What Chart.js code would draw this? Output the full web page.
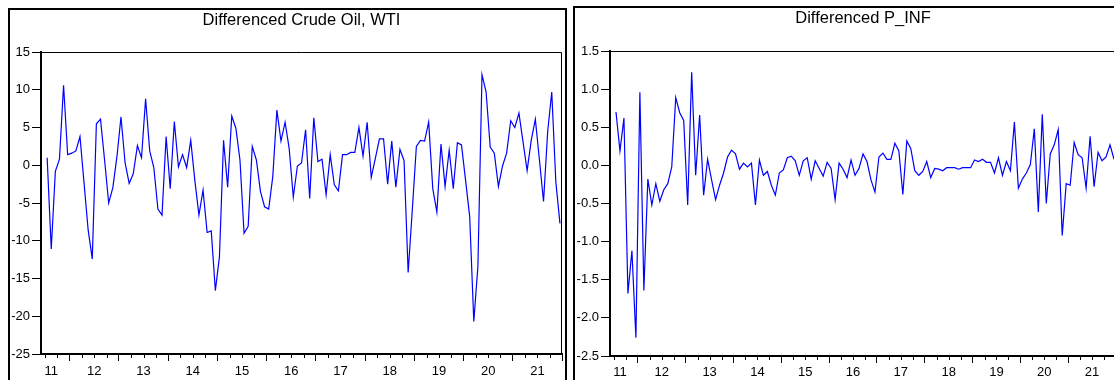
<!DOCTYPE html>
<html lang="en">
<head>
<meta charset="UTF-8" />
<title>Differenced Crude Oil, WTI / Differenced P_INF</title>
<script src="https://cdn.jsdelivr.net/npm/chart.js"></script>
<style>
  html, body {
    margin: 0;
    padding: 0;
    width: 1114px;
    height: 380px;
    overflow: hidden;
    background: #fff;
  }
  .frame {
    position: absolute;
    border: 2px solid #000;
    box-sizing: border-box;
  }
  .panel {
    position: absolute;
    top: 0;
    height: 380px;
  }
</style>
</head>
<body>

<div class="frame" style="left:8px; top:8px; width:559px; height:420px;"></div>
<div class="frame" style="left:573px; top:6px; width:600px; height:420px;"></div>

<div class="panel" style="left:0px; width:570px;"><canvas id="oilChart" width="570" height="380"></canvas></div>
<div class="panel" style="left:576px; width:546px;"><canvas id="infChart" width="546" height="380"></canvas></div>

<script>
  // monthly series, 2011M07 .. 2021M12
  const startYear = 2011;
  const startMonth = 7;
  const yearLabels = ['11', '12', '13', '14', '15', '16', '17', '18', '19', '20', '21'];

  const oilValues = [
    1.0, -11.1, -0.8, 0.8, 10.6, 1.4, 1.6, 1.9, 3.8, -2.4, -8.6, -12.4,
    5.5, 6.1, 0.7, -5.0, -3.0, 1.1, 6.4, 0.3, -2.4, -1.1, 2.6, 1.0,
    8.8, 1.9, -0.3, -5.8, -6.6, 3.8, -3.1, 5.8, -0.2, 1.4, -0.3, 3.3,
    -2.0, -6.6, -3.3, -8.9, -8.7, -16.6, -12.1, 3.3, -2.9, 6.5, 4.9, 0.7,
    -9.0, -8.1, 2.5, 0.7, -3.5, -5.5, -5.8, -1.5, 7.3, 3.2, 5.7, 2.2,
    -4.2, -0.1, 0.3, 4.7, -4.4, 6.3, 0.5, 0.8, -3.9, 1.4, -2.6, -3.4,
    1.4, 1.4, 1.7, 1.7, 5.0, 1.2, 5.7, -1.6, 0.9, 3.5, 3.5, -2.5,
    3.2, -2.9, 2.1, 0.6, -14.2, -6.0, 2.5, 3.3, 3.2, 5.7, -3.1, -6.2,
    2.8, -2.8, 2.0, -3.1, 3.0, 2.7, -2.0, -6.8, -20.7, -13.4, 12.0, 9.7,
    2.4, 1.6, -2.8, -0.1, 1.6, 5.9, 5.0, 6.9, 3.1, -0.7, 3.3, 6.1,
    0.7, -4.8, 4.4, 9.7, -2.2, -7.7
  ];

  const infValues = [
    0.70, 0.19, 0.62, -1.68, -1.12, -2.26, 0.96, -1.64, -0.18, -0.52, -0.24, -0.47,
    -0.32, -0.24, -0.02, 0.89, 0.69, 0.59, -0.52, 1.22, -0.13, 0.66, -0.39, 0.08,
    -0.19, -0.45, -0.26, -0.10, 0.11, 0.20, 0.15, -0.05, 0.03, -0.02, 0.03, -0.52,
    0.07, -0.13, -0.08, -0.26, -0.39, -0.10, -0.06, 0.10, 0.12, 0.06, -0.13, 0.06,
    0.10, -0.18, 0.06, -0.04, -0.14, 0.04, -0.04, -0.45, 0.03, -0.05, -0.16, 0.07,
    -0.13, -0.04, 0.15, 0.05, -0.19, -0.35, 0.11, 0.16, 0.08, 0.08, 0.29, 0.19,
    -0.38, 0.32, 0.22, -0.07, -0.13, -0.08, 0.05, -0.16, -0.04, -0.05, -0.07, -0.03,
    -0.03, -0.03, -0.05, -0.03, -0.03, -0.03, 0.07, 0.05, 0.08, 0.04, 0.04, -0.10,
    0.10, -0.13, 0.05, -0.07, 0.57, -0.30, -0.18, -0.10, 0.01, 0.48, -0.61, 0.67,
    -0.50, 0.15, 0.27, 0.47, -0.92, -0.24, -0.26, 0.30, 0.14, 0.10, -0.30, 0.38,
    -0.28, 0.17, 0.06, 0.11, 0.27, 0.08
  ];

  Chart.defaults.font.family = '"Liberation Sans", Arial, sans-serif';
  Chart.defaults.color = '#000';

  // months counted from Jan 2011 (0); each observation sits mid-month
  function toPoints(values) {
    const offset = (startYear - 2011) * 12 + (startMonth - 1) + 0.5;
    return values.map((v, i) => ({ x: offset + i, y: v }));
  }

  // x ticks: quarters, plus the shifted first-year label
  function buildXTicks(scale) {
    const ticks = [{ value: 7.5 }];
    for (let t = 6; t <= 132; t += 3) ticks.push({ value: t });
    scale.ticks = ticks;
  }

  function xLabel(value) {
    if (value === 7.5) return yearLabels[0];
    if (value % 12 === 6) {
      const idx = (value - 6) / 12;
      return idx >= 1 && idx < yearLabels.length ? yearLabels[idx] : '';
    }
    return '';
  }

  // top/right box lines and short quarter ticks
  const framePlugin = {
    id: 'framePlugin',
    afterDraw(chart) {
      const { ctx, chartArea: a, scales } = chart;
      ctx.save();
      ctx.strokeStyle = '#000';
      ctx.lineWidth = 1;
      ctx.beginPath();
      ctx.moveTo(a.left, a.top + 0.5);
      ctx.lineTo(a.right - 0.5, a.top + 0.5);
      ctx.lineTo(a.right - 0.5, a.bottom);
      ctx.stroke();
      ctx.beginPath();
      for (let t = 6; t <= 132; t += 3) {
        if (t % 12 === 0) continue;
        const x = Math.round(scales.x.getPixelForValue(t)) + 0.5;
        ctx.moveTo(x, a.bottom);
        ctx.lineTo(x, a.bottom + 4);
      }
      ctx.stroke();
      ctx.restore();
    }
  };

  function makeChart(id, title, values, yMin, yMax, yStep, decimals, geo) {
    return new Chart(document.getElementById(id), {
      type: 'line',
      data: {
        datasets: [{
          data: toPoints(values),
          borderColor: '#0000ff',
          borderWidth: 1.2,
          pointRadius: 0,
          tension: 0,
          fill: false
        }]
      },
      options: {
        responsive: false,
        animation: false,
        layout: { padding: { left: 0, right: geo.padRight, top: 0, bottom: 0 } },
        plugins: {
          legend: { display: false },
          tooltip: { enabled: false },
          title: {
            display: true,
            fullSize: false,
            text: title,
            font: { size: 16.5, weight: 'normal' },
            color: '#000',
            padding: { top: geo.titleTop, bottom: geo.titleBottom }
          }
        },
        scales: {
          x: {
            type: 'linear',
            min: 5,
            max: 132,
            afterBuildTicks: buildXTicks,
            afterFit(s) { s.height = geo.xHeight; },
            ticks: {
              autoSkip: false,
              maxRotation: 0,
              padding: geo.xPad,
              font: { size: 13 },
              callback: xLabel
            },
            grid: {
              drawOnChartArea: false,
              drawTicks: true,
              tickLength: 7,
              tickColor: (c) => (c.tick && c.tick.value % 12 === 0 ? '#000' : 'rgba(0,0,0,0)'),
              lineWidth: 1
            },
            border: { display: true, color: '#000', width: 2 }
          },
          y: {
            min: yMin,
            max: yMax,
            afterFit(s) { s.width = geo.yWidth; },
            ticks: {
              stepSize: yStep,
              padding: 2,
              font: { size: 13 },
              callback: (v) => v.toFixed(decimals)
            },
            grid: {
              drawOnChartArea: false,
              drawTicks: true,
              tickLength: 9,
              tickColor: '#000',
              lineWidth: 1
            },
            border: { display: true, color: '#000', width: 2 }
          }
        }
      },
      plugins: [framePlugin]
    });
  }

  makeChart('oilChart', 'Differenced Crude Oil, WTI', oilValues, -25, 15, 5, 0,
    { yWidth: 41, xHeight: 26, padRight: 8, titleTop: 10.6, titleBottom: 21.6, xPad: 3 });

  makeChart('infChart', 'Differenced P_INF', infValues, -2.5, 1.5, 0.5, 1,
    { yWidth: 34, xHeight: 24, padRight: 6, titleTop: 8.1, titleBottom: 23.1, xPad: 2 });
</script>

</body>
</html>
